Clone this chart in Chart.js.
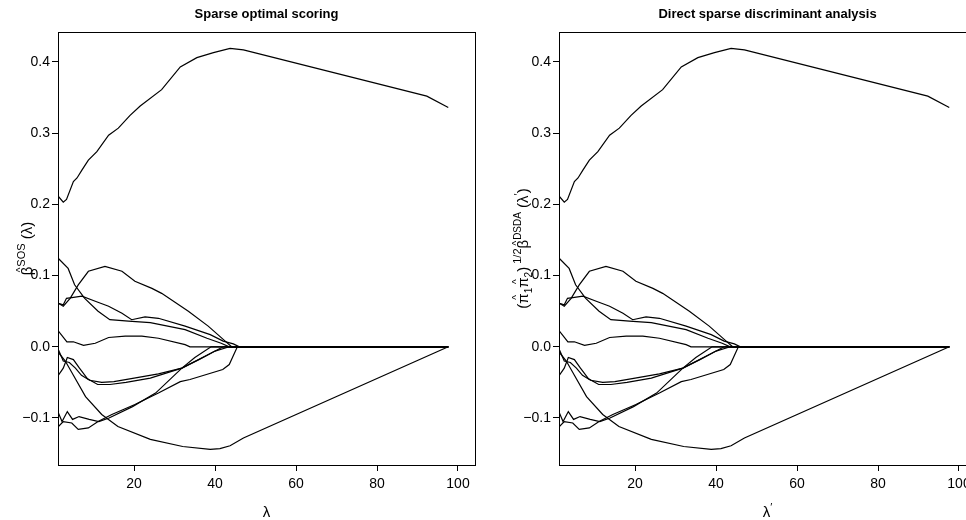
<!DOCTYPE html>
<html>
<head>
<meta charset="utf-8">
<script src="https://cdn.jsdelivr.net/npm/chart.js@4.4.1/dist/chart.umd.min.js"></script>
<style>
  html, body { margin: 0; padding: 0; background: #fff; overflow: hidden; }
  body { width: 966px; height: 520px; position: relative; }
  .panel { position: absolute; top: 0; width: 501px; height: 520px; }
</style>
</head>
<body>
<div class="panel" style="left:0"><canvas id="sos"></canvas></div>
<div class="panel" style="left:501px"><canvas id="dsda"></canvas></div>
<script>
// coefficient paths: [lambda, value]
const pathA = [[1.3,0.211],[2.5,0.203],[3.3,0.207],[5.0,0.232],[5.9,0.237],[7.1,0.248],[8.7,0.262],[10.8,0.274],[13.7,0.297],[16.1,0.307],[19.0,0.325],[21.5,0.338],[26.8,0.361],[31.4,0.393],[35.5,0.406],[39.6,0.413],[43.7,0.419],[47.0,0.417],[92.3,0.352],[97.6,0.336]];
const pathB = [[1.3,0.124],[3.7,0.110],[5.3,0.087],[7.8,0.068],[11.1,0.050],[14.0,0.038],[18.6,0.036],[24.0,0.034],[32.6,0.024],[38.0,0.012],[41.5,0.005],[43.5,0],[97.6,0]];
const pathC = [[1.3,0.061],[2.5,0.059],[3.3,0.068],[4.6,0.069],[7.1,0.071],[10.4,0.064],[13.7,0.057],[17.0,0.047],[19.4,0.038],[22.7,0.042],[26.0,0.040],[32.6,0.029],[38.8,0.017],[42.0,0.008],[44.5,0.004],[46.0,0],[97.6,0]];
const pathD = [[1.3,0.061],[2.5,0.057],[4.2,0.068],[6.2,0.087],[8.7,0.106],[12.8,0.113],[17.0,0.106],[20.2,0.092],[24.4,0.082],[26.8,0.075],[33.4,0.050],[38.3,0.029],[42.5,0.008],[44.1,0],[97.6,0]];
const pathE = [[1.3,0.022],[3.4,0.007],[5.0,0.007],[7.5,0.002],[10.4,0.005],[13.7,0.013],[17.8,0.015],[21.9,0.015],[26.0,0.012],[32.6,0.003],[33.8,0],[97.6,0]];
const pathF1 = [[1.3,-0.004],[2.5,-0.020],[4.0,-0.022],[5.5,-0.030],[7.0,-0.040],[9.0,-0.047],[12.0,-0.050],[15.0,-0.049],[20.0,-0.044],[26.0,-0.038],[31.8,-0.030],[36.0,-0.018],[40.0,-0.006],[43.5,0],[97.6,0]];
const pathF2 = [[1.3,-0.040],[2.5,-0.030],[3.5,-0.015],[5.0,-0.018],[6.5,-0.030],[8.5,-0.045],[11.0,-0.053],[14.0,-0.053],[18.0,-0.050],[24.0,-0.044],[31.8,-0.030],[38.0,-0.012],[42.0,0],[97.6,0]];
const pathG = [[1.3,-0.008],[3.0,-0.020],[5.0,-0.040],[8.0,-0.070],[12.0,-0.095],[16.0,-0.112],[24.0,-0.130],[32.0,-0.140],[38.8,-0.144],[41.2,-0.143],[43.7,-0.139],[47.0,-0.128],[97.6,0]];
const pathH1 = [[1.3,-0.093],[2.2,-0.105],[3.5,-0.091],[4.8,-0.102],[6.4,-0.098],[8.9,-0.102],[11.3,-0.105],[13.8,-0.100],[19.6,-0.084],[25.3,-0.065],[31.8,-0.030],[35.0,-0.015],[39.0,0],[97.6,0]];
const pathH2 = [[1.3,-0.112],[2.5,-0.105],[4.6,-0.107],[6.2,-0.116],[8.7,-0.114],[11.1,-0.105],[14.5,-0.095],[20.2,-0.081],[26.0,-0.065],[31.4,-0.049],[33.8,-0.046],[41.9,-0.032],[43.5,-0.025],[45.5,0],[97.6,0]];
const paths = [pathA, pathB, pathC, pathD, pathE, pathF1, pathF2, pathG, pathH1, pathH2];

const xTicks = [20, 40, 60, 80, 100];
const yTicks = [-0.1, 0.0, 0.1, 0.2, 0.3, 0.4];

const FONT = "'Liberation Sans Narrow', 'Liberation Sans', Arial, sans-serif";

// label pieces: [text, size, rise, hat]
const sosYLab = [['β', 15, 0, true], ['SOS', 11, 7], [' (λ)', 15, 0]];
const dsdaYLab = [['(', 15, 0], ['π', 15, 0, true], ['1', 10, -4], ['π', 15, 0, true], ['2', 10, -4], [')', 15, 0],
                  [' 1/2', 11, 7], ['β', 15, 0, true], ['DSDA', 10, 7], [' (λ', 15, 0], ['′', 11, 6], [')', 15, 0]];
const sosXLab = [['λ', 15, 0]];
const dsdaXLab = [['λ', 15, 0], ['′', 11, 6]];

function drawPieces(ctx, pieces, cx, cy, rotate) {
    ctx.save();
    ctx.translate(cx, cy);
    if (rotate) ctx.rotate(-Math.PI / 2);
    ctx.textBaseline = 'alphabetic';
    ctx.fillStyle = '#000';
    let total = 0;
    pieces.forEach(p => {
        ctx.font = p[1] + 'px ' + FONT;
        total += ctx.measureText(p[0]).width;
    });
    let x = -total / 2;
    pieces.forEach(p => {
        ctx.font = p[1] + 'px ' + FONT;
        const w = ctx.measureText(p[0]).width;
        ctx.fillText(p[0], x, 5 - p[2]);
        if (p[3]) {
            ctx.font = '10px ' + FONT;
            ctx.textAlign = 'center';
            ctx.fillText('^', x + w / 2 + 1, -3 - p[2]);
            ctx.textAlign = 'left';
        }
        x += w;
    });
    ctx.restore();
}

const rPlot = {
    id: 'rPlot',
    afterDraw(chart, args, opts) {
        const {ctx, chartArea: a} = chart;
        ctx.save();
        ctx.strokeStyle = '#000';
        ctx.lineWidth = 1;
        ctx.strokeRect(Math.round(a.left) + 0.5, Math.round(a.top) + 0.5,
                       Math.round(a.right - a.left), Math.round(a.bottom - a.top));
        ctx.restore();
        drawPieces(ctx, opts.ylab, opts.ylabX, (a.top + a.bottom) / 2, true);
        drawPieces(ctx, opts.xlab, (a.left + a.right) / 2, 512, false);
    }
};

function makeChart(id, title, ylab, ylabX, xlab) {
    const ctx = document.getElementById(id).getContext('2d');
    return new Chart(ctx, {
        type: 'line',
        data: {
            datasets: paths.map(p => ({
                data: p.map(d => ({x: d[0], y: d[1]})),
                borderColor: '#000',
                borderWidth: 1.2,
                pointRadius: 0,
                tension: 0,
                fill: false
            }))
        },
        options: {
            responsive: true,
            maintainAspectRatio: false,
            animation: false,
            events: [],
            layout: { padding: { left: 0, right: 26, top: 0, bottom: 0 } },
            plugins: {
                legend: { display: false },
                tooltip: { enabled: false },
                title: {
                    display: true,
                    text: title,
                    fullSize: false,
                    color: '#000',
                    font: { family: FONT, size: 13, weight: 'bold' },
                    padding: { top: 7, bottom: 9.4 }
                },
                rPlot: { ylab: ylab, ylabX: ylabX, xlab: xlab }
            },
            scales: {
                x: {
                    type: 'linear',
                    min: 1.2,
                    max: 104.2,
                    afterBuildTicks: s => { s.ticks = xTicks.map(v => ({value: v})); },
                    afterFit: s => { s.height = 55; },
                    grid: { drawOnChartArea: false, drawTicks: true, tickLength: 6, tickColor: '#000' },
                    border: { display: false },
                    ticks: { color: '#000', padding: 5, maxRotation: 0, font: { family: FONT, size: 14 } }
                },
                y: {
                    min: -0.166,
                    max: 0.442,
                    afterBuildTicks: s => { s.ticks = yTicks.map(v => ({value: v})); },
                    afterFit: s => { s.width = 58; },
                    grid: { drawOnChartArea: false, drawTicks: true, tickLength: 6, tickColor: '#000' },
                    border: { display: false },
                    ticks: {
                        color: '#000',
                        padding: 2,
                        font: { family: FONT, size: 14 },
                        callback: v => (v < -0.001 ? '−' : '') + Math.abs(v).toFixed(1)
                    }
                }
            }
        },
        plugins: [rPlot]
    });
}

makeChart('sos', 'Sparse optimal scoring', sosYLab, 27, sosXLab);
makeChart('dsda', 'Direct sparse discriminant analysis', dsdaYLab, 22, dsdaXLab);
</script>
</body>
</html>
